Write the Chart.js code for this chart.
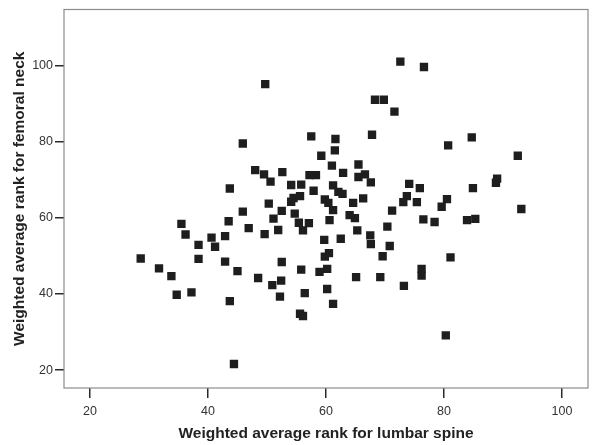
<!DOCTYPE html>
<html>
<head>
<meta charset="utf-8">
<script src="https://cdn.jsdelivr.net/npm/chart.js@4"></script>
<style>
  html, body { margin: 0; padding: 0; background: #fff; }
  #wrap { width: 601px; height: 445px; }
</style>
</head>
<body>
<div id="wrap"><canvas id="myChart" width="601" height="445"></canvas></div>
<script>
// values
const lumbarSpine = [
  28.6, 31.7, 33.8, 34.7, 37.2, 35.5, 36.2, 38.4, 40.6, 41.2,
  42.9, 38.4, 42.9, 45.0, 48.5, 43.7, 44.4, 45.9, 48.0, 43.7,
  45.9, 43.5, 46.9, 49.7, 49.5, 52.6, 50.6, 54.1, 55.8, 57.2,
  58.3, 57.5, 61.6, 61.5, 59.2, 61.0, 65.5, 62.9, 65.5, 66.6,
  67.6, 61.2, 57.9, 62.1, 62.8, 67.8, 68.3, 69.8, 71.6, 72.6,
  76.6, 80.7, 84.7, 74.1, 75.9, 80.5, 79.6, 73.7, 73.1, 75.4,
  66.3, 64.6, 59.8, 60.4, 61.2, 55.6, 54.5, 54.1, 50.3, 52.5,
  54.7, 51.1, 55.4, 57.1, 56.1, 51.9, 49.6, 60.6, 64.0, 64.9,
  71.2, 70.4, 65.3, 67.5, 67.6, 76.5, 78.4, 59.7, 62.5, 70.8,
  69.6, 60.5, 59.8, 52.5, 55.8, 60.2, 58.9, 52.4, 65.1, 69.2,
  76.2, 76.2, 81.1, 50.9, 52.2, 73.2, 56.4, 60.2, 61.2, 55.6,
  56.1, 80.3, 92.5, 89.0, 88.8, 84.9, 93.1, 83.9, 85.3
]
const femoralNeck = [
  49.3, 46.7, 44.7, 39.8, 40.4, 58.4, 55.6, 52.9, 54.8, 52.4,
  55.2, 49.2, 48.5, 46.0, 44.2, 38.1, 21.6, 79.5, 72.5, 67.7,
  61.6, 59.1, 57.3, 95.1, 71.4, 72.0, 69.5, 68.6, 68.7, 71.2,
  71.2, 81.4, 80.7, 77.7, 76.3, 73.7, 74.0, 71.8, 70.7, 71.4,
  69.3, 68.5, 67.1, 66.8, 66.3, 81.8, 91.0, 91.0, 87.9, 101.0,
  99.6, 79.0, 81.1, 68.9, 67.8, 64.9, 62.9, 65.7, 64.1, 64.1,
  65.1, 63.9, 64.8, 63.9, 62.0, 65.7, 65.2, 64.2, 63.7, 61.8,
  61.1, 59.8, 58.7, 58.6, 56.7, 56.8, 55.7, 59.4, 60.7, 59.9,
  61.9, 57.7, 56.7, 55.4, 53.1, 59.6, 58.9, 54.2, 54.5, 52.6,
  49.9, 50.7, 49.8, 48.4, 46.4, 46.6, 45.8, 43.5, 44.4, 44.4,
  46.6, 44.8, 49.6, 42.3, 39.3, 42.1, 40.2, 41.3, 37.4, 34.8,
  34.2, 29.1, 76.3, 70.3, 69.2, 67.8, 62.3, 59.4, 59.7
]
const tickValues = [20, 40, 60, 80, 100]

const points = lumbarSpine.map((x, i) => ({ x, y: femoralNeck[i] }))

// grey frame round the plot area
const frame = {
  id: 'frame',
  beforeDatasetsDraw(chart) {
    const a = chart.chartArea
    const ctx = chart.ctx
    ctx.save()
    ctx.strokeStyle = '#8c8c8c'
    ctx.lineWidth = 1.2
    ctx.strokeRect(a.left, a.top, a.right - a.left, a.bottom - a.top)
    ctx.restore()
  }
}

const fixTicks = scale => {
  scale.ticks = tickValues.map(v => ({ value: v }))
}

const canvas = document.getElementById('myChart')
const config = {
  type: 'scatter',
  data: {
    datasets: [{
      data: points,
      pointStyle: 'rect',
      pointRadius: 5.9,
      pointHoverRadius: 5.9,
      borderWidth: 0,
      backgroundColor: '#1e1e1e'
    }]
  },
  options: {
    responsive: false,
    animation: false,
    plugins: { legend: { display: false }, tooltip: { enabled: false } },
    layout: { padding: { top: 7, right: 13, left: 0, bottom: 0 } },
    scales: {
      x: {
        type: 'linear',
        min: 15.6,
        max: 104.4,
        afterBuildTicks: fixTicks,
        afterFit: s => { s.height = 57 },
        border: { display: false },
        grid: { drawOnChartArea: false, drawTicks: true, tickLength: 10, color: '#2a2a2a', lineWidth: 1.5 },
        ticks: { color: '#333', padding: 6, font: { family: 'Liberation Sans', size: 12.5 } },
        title: {
          display: true,
          text: 'Weighted average rank for lumbar spine',
          color: '#222',
          padding: { top: 0, bottom: 2 },
          font: { family: 'Liberation Sans', size: 15.5, weight: 'bold' }
        }
      },
      y: {
        type: 'linear',
        min: 15.3,
        max: 114.7,
        afterBuildTicks: fixTicks,
        afterFit: s => { s.width = 64 },
        border: { display: false },
        grid: { drawOnChartArea: false, drawTicks: true, tickLength: 9, color: '#2a2a2a', lineWidth: 1.5 },
        ticks: { color: '#333', padding: 2, font: { family: 'Liberation Sans', size: 12.5 } },
        title: {
          display: true,
          text: 'Weighted average rank for femoral neck',
          color: '#222',
          padding: { top: 10, bottom: 0 },
          font: { family: 'Liberation Sans', size: 15.5, weight: 'bold' }
        }
      }
    }
  },
  plugins: [frame]
}

const myChart = new Chart(canvas, config)
</script>
</body>
</html>
